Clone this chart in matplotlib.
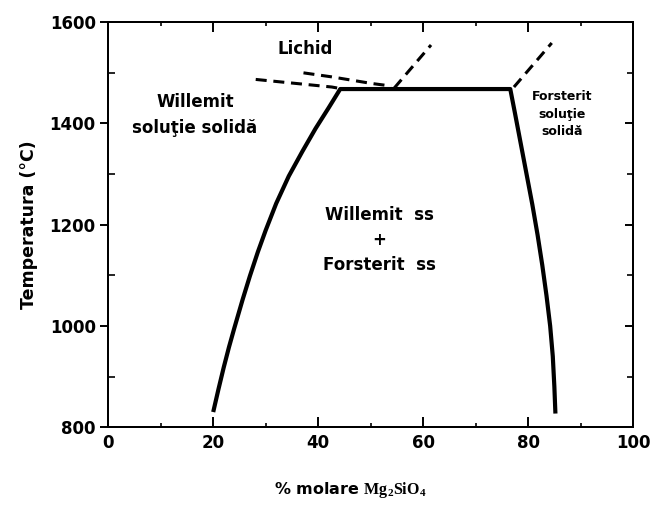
import matplotlib
matplotlib.use("Agg")
import matplotlib.pyplot as plt
from matplotlib.ticker import MultipleLocator

plt.rcParams['font.family'] = ['DejaVu Sans']
plt.rcParams['font.weight'] = 'bold'
plt.rcParams['mathtext.fontset'] = 'custom'
plt.rcParams['mathtext.rm'] = 'Liberation Serif'

# Solidus: Willemit side, plateau, Forsterit side (mol % Mg2SiO4, °C)
solidus_x = [20.0, 21.0, 22.0, 23.0, 24.0, 25.6, 27.0, 28.5, 30.0, 32.0, 34.4, 37.0,
             39.5, 42.0, 44.2,
             76.6, 77.5, 78.6, 79.7, 80.8, 81.8, 82.7, 83.5, 84.2, 84.7, 85.0, 85.2]
solidus_t = [830, 875, 918, 958, 995, 1052, 1099, 1146, 1189, 1242, 1296, 1345,
             1390, 1431, 1468,
             1468, 1420, 1360, 1300, 1240, 1180, 1120, 1060, 1000, 940, 880, 827]

# Dashed liquidus segments
liq_low_x = [28.1, 42.6, 44.2]
liq_low_t = [1487, 1472, 1469]
liq_up_x = [37.2, 42.6, 50.2, 53.9]
liq_up_t = [1500, 1492, 1479, 1474]
liq_mid_x = [54.5, 61.5]
liq_mid_t = [1470, 1555]
liq_right_x = [77.3, 84.5]
liq_right_t = [1472, 1559]

x_ticks = [0, 20, 40, 60, 80, 100]
y_ticks = [800, 1000, 1200, 1400, 1600]

fig = plt.figure(figsize=(6.52, 5.05), dpi=100)
ax = fig.add_axes([0.166, 0.154, 0.805, 0.802])

ax.plot(solidus_x, solidus_t, color='black', lw=3.0,
        solid_joinstyle='round', solid_capstyle='butt')
for xs, ts in [(liq_low_x, liq_low_t), (liq_up_x, liq_up_t),
               (liq_mid_x, liq_mid_t), (liq_right_x, liq_right_t)]:
    ax.plot(xs, ts, color='black', lw=2.2, dashes=(3.6, 2.2))

ax.set_xlim(0, 100)
ax.set_ylim(800, 1600)
ax.set_xticks(x_ticks)
ax.set_yticks(y_ticks)
ax.xaxis.set_minor_locator(MultipleLocator(10))
ax.yaxis.set_minor_locator(MultipleLocator(100))

for s in ax.spines.values():
    s.set_linewidth(1.4)

ax.tick_params(axis='x', which='major', direction='in', length=7, width=1.4,
               top=True, labelsize=12, pad=5)
ax.tick_params(axis='x', which='minor', direction='in', length=3, width=1.2,
               top=True)
ax.tick_params(axis='y', which='major', direction='out', length=6, width=1.4,
               right=False, labelsize=12, pad=3)
ax.tick_params(axis='y', which='minor', direction='in', length=5, width=1.2,
               right=False)
for lbl in ax.get_xticklabels() + ax.get_yticklabels():
    lbl.set_fontweight('bold')

# Right-hand ticks point inward
axr = ax.twinx()
axr.set_ylim(ax.get_ylim())
axr.set_yticks(y_ticks)
axr.yaxis.set_minor_locator(MultipleLocator(100))
axr.tick_params(axis='y', which='major', direction='in', length=6, width=1.4,
                labelright=False)
axr.tick_params(axis='y', which='minor', direction='in', length=4, width=1.2)
for s in axr.spines.values():
    s.set_linewidth(1.4)

ax.set_ylabel('Temperatura (°C)', fontsize=12.5, fontweight='bold', labelpad=8)

fig.text(0.537, 0.030, r'% molare $\mathrm{Mg_2SiO_4}$', ha='center', va='center',
         fontsize=11.5, fontweight='bold')

ax.text(37.6, 1548, 'Lichid', ha='center', va='center', fontsize=12, fontweight='bold')
ax.text(16.5, 1417, 'Willemit\nsoluţie solidă', ha='center', va='center',
        fontsize=12, fontweight='bold', linespacing=1.55)
ax.text(86.5, 1418, 'Forsterit\nsoluţie\nsolidă', ha='center', va='center',
        fontsize=9, fontweight='bold', linespacing=1.45)
ax.text(51.7, 1170, 'Willemit  ss\n+\nForsterit  ss', ha='center', va='center',
        fontsize=12, fontweight='bold', linespacing=1.5)

fig.savefig('out.png', dpi=100)
